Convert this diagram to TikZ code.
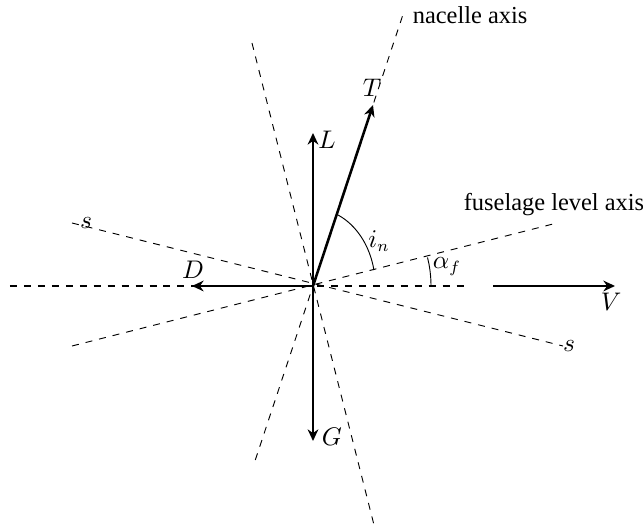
\documentclass[tikz,border=0pt]{standalone}
\usepackage{fontspec}
\setmainfont{Liberation Serif}
\usetikzlibrary{arrows.meta}
\begin{document}
\begin{tikzpicture}[x=0.43pt,y=0.43pt,
  font=\fontsize{10.5}{12.6}\selectfont,
  force/.style={line width=1.1pt,-{Stealth[length=5pt,width=4.6pt,inset=1.6pt]}},
  axisline/.style={dashed,line width=0.4pt},
  mainaxis/.style={dashed,line width=1.2pt},
  lbl/.style={inner sep=1pt},
  anglearc/.style={line width=0.4pt}]
\useasboundingbox (-313,-244) rectangle (330,286);
\coordinate (O) at (0,0);
% axes
\coordinate (hL) at (-303,0);
\coordinate (hR) at (152,0);
\draw[mainaxis] (hL) -- (hR);
\coordinate (nA) at (-57.7,-174);
\coordinate (nB) at (90.5,273);
\draw[axisline] (nA) -- (nB);
\coordinate (pA) at (-61,243);
\coordinate (pB) at (61,-239);
\draw[axisline] (pA) -- (pB);
\coordinate (fA) at (-241,-60);
\coordinate (fB) at (244,63);
\draw[axisline] (fA) -- (fB);
\coordinate (sA) at (-241,63);
\coordinate (sB) at (250,-60);
\draw[axisline] (sA) -- (sB);
% forces
\coordinate (Dt) at (-121,0);
\coordinate (Lt) at (0,153);
\coordinate (Gt) at (0,-155);
\coordinate (Tt) at (60,181);
\coordinate (V0) at (180,0);
\coordinate (Vt) at (302,0);
\draw[force] (O) -- (Dt);
\draw[force] (O) -- (Lt);
\draw[force] (O) -- (Gt);
\draw[force] (O) -- (Tt);
\draw[force] (V0) -- (Vt);
% angle arcs
\draw[anglearc] (25,71) arc[start angle=66.3,end angle=11.9,x radius=62.3,y radius=77.5];
\draw[anglearc] (114.5,28.5) arc[start angle=14,end angle=0,radius=118];
% labels
\node[lbl] (lD) at (-120,16) {$D$};
\node[lbl] (lL) at (14,146) {$L$};
\node[lbl] (lG) at (19,-151) {$G$};
\node[lbl] (lT) at (59,198) {$T$};
\node[lbl] (lV) at (298,-16) {$V$};
\node[lbl] (lin) at (66,45) {$i_n$};
\node[lbl] (laf) at (134,19) {$\alpha_f$};
\node[lbl] (ls1) at (-227,63) {$s$};
\node[lbl] (ls2) at (256,-60) {$s$};
\node[lbl,anchor=west] (lnac) at (97,271) {nacelle axis};
\node[lbl] (lfus) at (241,81) {fuselage level axis};
\end{tikzpicture}
\end{document}
